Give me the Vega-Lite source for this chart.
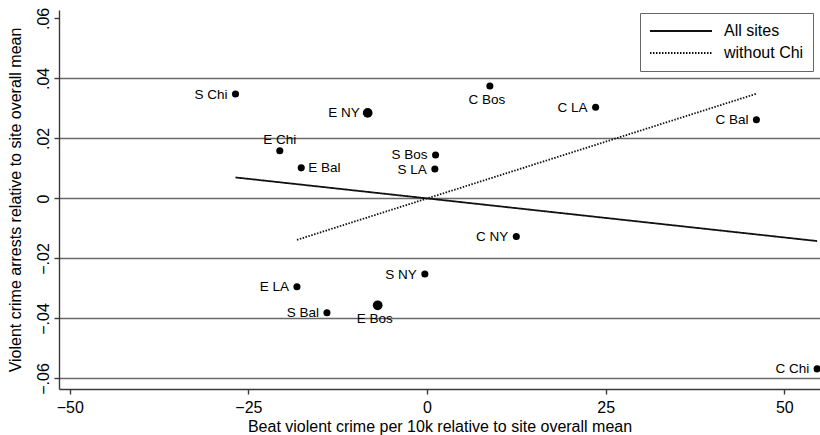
{
  "$schema": "https://vega.github.io/schema/vega-lite/v6.json",
  "autosize": {"type": "none"},
  "padding": {"left": 59, "top": 10, "right": 0, "bottom": 46},
  "width": 761,
  "height": 379,
  "background": "white",
  "datasets": {
    "points": [
      {"site": "S Chi", "x": -26.8, "y": 0.0348, "pos": "left", "w": "normal"},
      {"site": "E NY", "x": -8.3, "y": 0.0285, "pos": "left", "w": "large"},
      {"site": "C Bos", "x": 8.8, "y": 0.0375, "pos": "below", "w": "normal"},
      {"site": "E Chi", "x": -20.6, "y": 0.0159, "pos": "above", "w": "normal"},
      {"site": "E Bal", "x": -17.6, "y": 0.0102, "pos": "right", "w": "normal"},
      {"site": "S Bos", "x": 1.2, "y": 0.0145, "pos": "left", "w": "normal"},
      {"site": "S LA", "x": 1.1, "y": 0.0098, "pos": "left", "w": "normal"},
      {"site": "C LA", "x": 23.6, "y": 0.0304, "pos": "left", "w": "normal"},
      {"site": "C Bal", "x": 46.1, "y": 0.0262, "pos": "left", "w": "normal"},
      {"site": "C NY", "x": 12.5, "y": -0.0127, "pos": "left", "w": "normal"},
      {"site": "S NY", "x": -0.3, "y": -0.0252, "pos": "left", "w": "normal"},
      {"site": "E LA", "x": -18.2, "y": -0.0294, "pos": "left", "w": "normal"},
      {"site": "S Bal", "x": -14.0, "y": -0.0381, "pos": "left", "w": "normal"},
      {"site": "E Bos", "x": -6.9, "y": -0.0356, "pos": "below", "w": "large"},
      {"site": "C Chi", "x": 54.6, "y": -0.0568, "pos": "left", "w": "normal"}
    ],
    "fits": [
      {"fit": "All sites", "x": -26.8, "y": 0.0070},
      {"fit": "All sites", "x": 54.6, "y": -0.0142},
      {"fit": "without Chi", "x": -18.2, "y": -0.0138},
      {"fit": "without Chi", "x": 46.1, "y": 0.0349}
    ]
  },
  "config": {
    "font": "Liberation Sans",
    "view": {"stroke": null},
    "axis": {
      "labelFont": "Liberation Sans",
      "labelFontSize": 16,
      "labelColor": "#000",
      "titleFont": "Liberation Sans",
      "titleFontSize": 16,
      "titleFontWeight": "normal",
      "titleColor": "#000",
      "domainColor": "#3a3a3a",
      "domainWidth": 1.4,
      "tickColor": "#3a3a3a",
      "tickWidth": 1.4,
      "tickSize": 5,
      "labelPadding": 5,
      "labelFlush": false,
      "labelOverlap": false,
      "gridColor": "#6a6a6a",
      "gridWidth": 1.7
    }
  },
  "encoding": {
    "x": {
      "field": "x",
      "type": "quantitative",
      "scale": {"domain": [-51.5, 55], "nice": false, "zero": false},
      "axis": {
        "values": [-50, -25, 0, 25, 50],
        "grid": false,
        "title": "Beat violent crime per 10k relative to site overall mean",
        "titlePadding": 3
      }
    },
    "y": {
      "field": "y",
      "type": "quantitative",
      "scale": {"domain": [-0.0635, 0.0628], "nice": false, "zero": false},
      "axis": {
        "values": [-0.06, -0.04, -0.02, 0, 0.02, 0.04, 0.06],
        "labelAngle": -90,
        "labelAlign": "center",
        "labelBaseline": "bottom",
        "labelPadding": 3,
        "labelExpr": "datum.value == 0 ? '0' : replace(format(datum.value, '.2f'), '0.', '.')",
        "grid": true,
        "gridOpacity": {"condition": {"test": "datum.value > 0.05", "value": 0}, "value": 1},
        "title": "Violent crime arrests relative to site overall mean",
        "titlePadding": 12
      }
    }
  },
  "layer": [
    {
      "data": {"name": "fits"},
      "mark": {"type": "line", "color": "#111", "strokeWidth": 1.8},
      "encoding": {
        "strokeDash": {
          "field": "fit",
          "type": "nominal",
          "scale": {"domain": ["All sites", "without Chi"], "range": [[1, 0], [1.5, 1.5]]},
          "legend": {
            "title": null,
            "orient": "none",
            "legendX": 581,
            "legendY": 3,
            "symbolType": "stroke",
            "symbolSize": 3844,
            "symbolStrokeWidth": 1.8,
            "symbolStrokeColor": "#111",
            "labelFontSize": 16,
            "labelFont": "Liberation Sans",
            "labelColor": "#000",
            "labelOffset": 11,
            "padding": 9,
            "clipHeight": 18,
            "rowPadding": 4,
            "strokeColor": "#666",
            "fillColor": "white"
          }
        }
      }
    },
    {
      "data": {"name": "points"},
      "mark": {"type": "circle", "color": "#000", "opacity": 1},
      "encoding": {
        "size": {"field": "w", "type": "nominal", "scale": {"domain": ["normal", "large"], "range": [50, 95]}, "legend": null}
      }
    },
    {
      "data": {"name": "points"},
      "transform": [{"filter": "datum.pos == 'left'"}],
      "mark": {"type": "text", "align": "right", "baseline": "middle", "dx": -8, "dy": 0.5, "fontSize": 13.5, "color": "#000"},
      "encoding": {"text": {"field": "site"}}
    },
    {
      "data": {"name": "points"},
      "transform": [{"filter": "datum.pos == 'right'"}],
      "mark": {"type": "text", "align": "left", "baseline": "middle", "dx": 7, "dy": 0.5, "fontSize": 13.5, "color": "#000"},
      "encoding": {"text": {"field": "site"}}
    },
    {
      "data": {"name": "points"},
      "transform": [{"filter": "datum.pos == 'below'"}],
      "mark": {"type": "text", "align": "center", "baseline": "top", "dy": 7, "dx": -3, "fontSize": 13.5, "color": "#000"},
      "encoding": {"text": {"field": "site"}}
    },
    {
      "data": {"name": "points"},
      "transform": [{"filter": "datum.pos == 'above'"}],
      "mark": {"type": "text", "align": "center", "baseline": "alphabetic", "dy": -6.5, "fontSize": 13.5, "color": "#000"},
      "encoding": {"text": {"field": "site"}}
    }
  ]
}
